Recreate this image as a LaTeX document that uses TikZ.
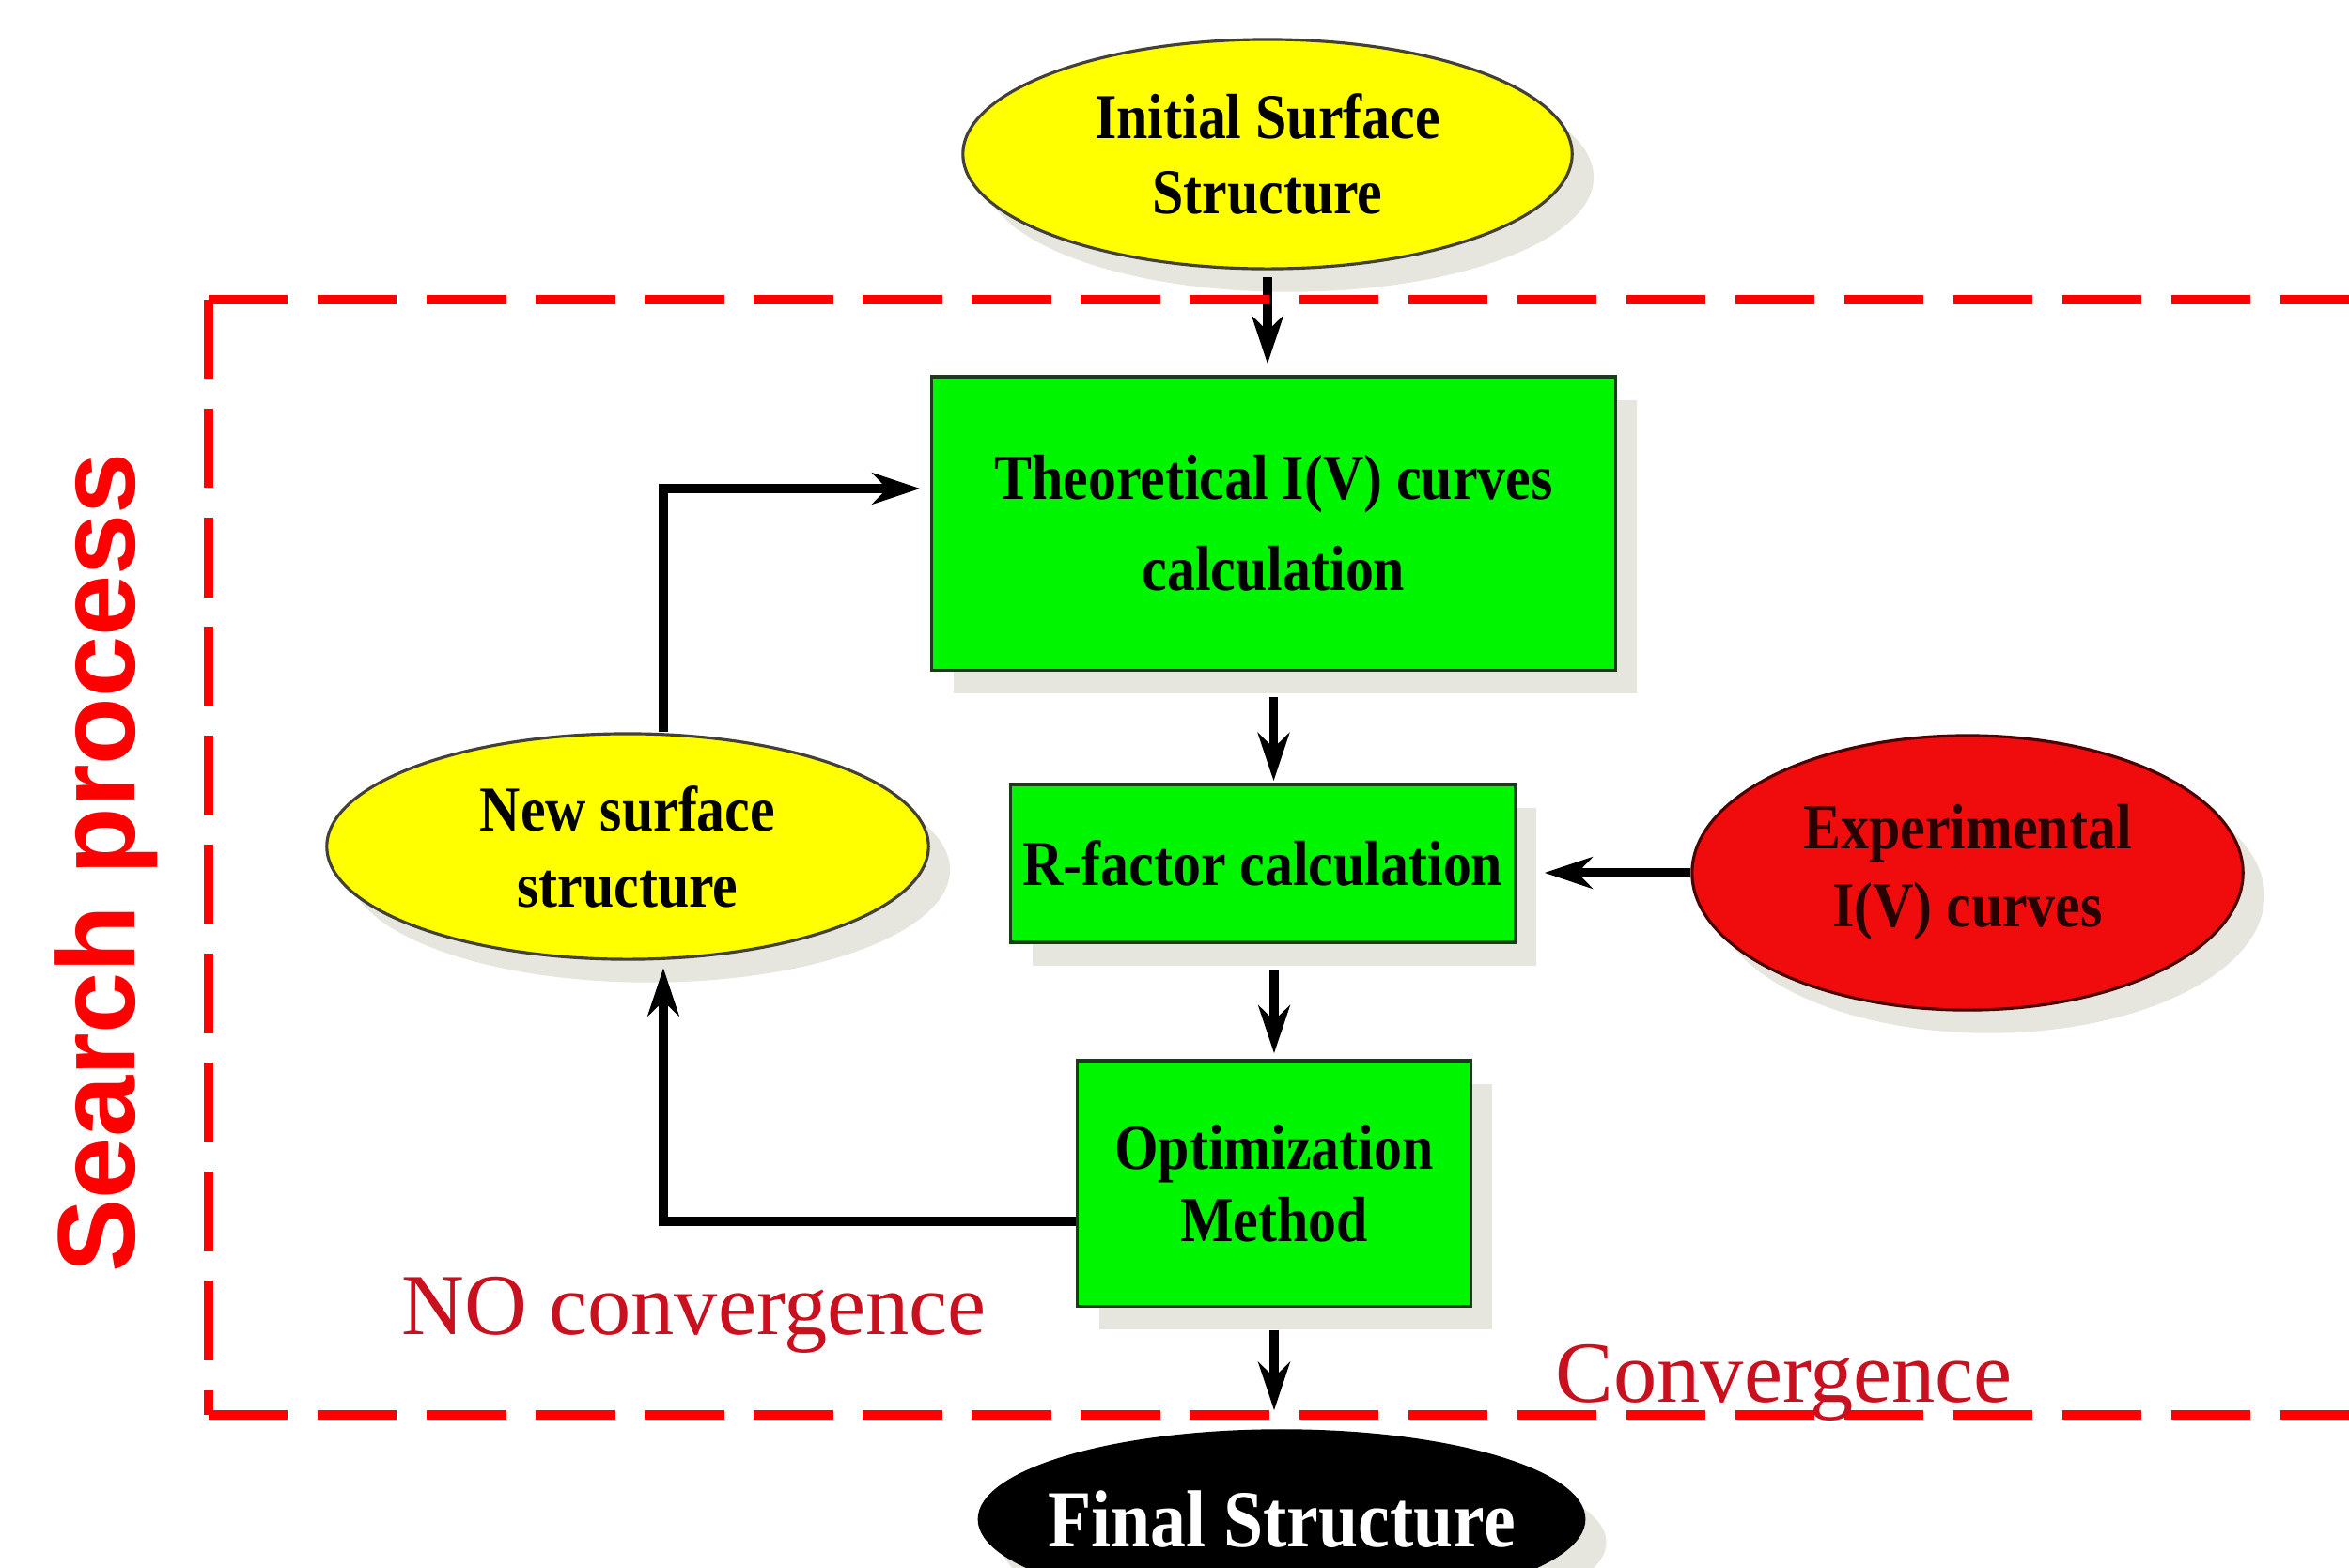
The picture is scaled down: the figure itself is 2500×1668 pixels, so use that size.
\documentclass[tikz,border=0pt]{standalone}
\usepackage{fontspec}
\setmainfont{Liberation Serif}
\newfontfamily\condfont[FakeStretch=0.88]{Liberation Serif}
\newfontfamily\sansbold{Liberation Sans}
\usetikzlibrary{shapes.geometric,arrows.meta,shadows}
\definecolor{boxgreen}{RGB}{0,245,0}
\definecolor{boxedge}{RGB}{25,60,25}
\definecolor{ellyellow}{RGB}{255,255,0}
\definecolor{ellred}{RGB}{240,12,12}
\definecolor{labelred}{RGB}{200,16,30}
\definecolor{dashred}{RGB}{255,0,0}
\definecolor{shadowgray}{RGB}{230,230,222}
\definecolor{exptext}{RGB}{40,0,0}
\tikzset{
  nodetext/.style={font=\condfont\bfseries\fontsize{19.35pt}{23pt}\selectfont, align=center, inner sep=0pt},
  shadowed/.style={drop shadow={shadow xshift=6.5pt, shadow yshift=-7pt, fill=shadowgray, opacity=1}},
  greenbox/.style={nodetext, rectangle, draw=boxedge, line width=0.9pt, fill=boxgreen, shadowed},
  yellowell/.style={nodetext, ellipse, draw=black!85!yellow, line width=0.9pt, fill=ellyellow, shadowed},
  conn/.style={line width=2.6pt, -{Stealth[length=14.5pt,width=9.5pt,inset=4.5pt]}},
  dashframe/.style={draw=dashred, line width=3pt, dash pattern=on 24pt off 9pt},
  convlabel/.style={font=\fontsize{26.3pt}{30pt}\selectfont, text=labelred, anchor=base west, inner sep=0pt},
}
\begin{document}
\begin{tikzpicture}[x=0.01cm,y=-0.01cm]
\clip (0,0) rectangle (2500,1668);
\fill[white] (0,0) rectangle (2500,1668);

% nodes
\node[yellowell, minimum width=6.48cm, minimum height=2.44cm] (init) at (1349,164)
  {Initial Surface\\[-0.5pt]Structure};
\node[greenbox, minimum width=7.27cm, minimum height=3.12cm] (theo) at (1355.5,557)
  {Theoretical I(V) curves\\[4.6pt]calculation};
\node[greenbox, minimum width=5.36cm, minimum height=1.68cm] (rfac) at (1344,919)
  {R-factor calculation};
\node[greenbox, minimum width=4.18cm, minimum height=2.61cm] (opt) at (1356,1259.5)
  {Optimization\\[-1.1pt]Method};
\node[yellowell, minimum width=6.40cm, minimum height=2.40cm] (newsurf) at (668,901)
  {New surface\\structure};
\node[nodetext, ellipse, draw=black!70!red, line width=0.9pt, fill=ellred, text=exptext, shadowed,
      minimum width=5.86cm, minimum height=2.92cm] (exp) at (2094,929)
  {Experimental\\[0.6pt]I(V) curves};
\node[ellipse, fill=black, draw=black, text=white, shadowed, inner xsep=-30pt, inner ysep=-10pt,
      font=\condfont\bfseries\fontsize{24.5pt}{28pt}\selectfont,
      minimum width=6.45cm, minimum height=1.90cm] (final) at (1364,1617)
  {Final Structure};

% helper coordinates for the loop
\coordinate (lc1) at (706,1300);
\coordinate (lc2) at (706,520);

% connectors
\draw[conn, shorten <=2pt, shorten >=3.4pt] (init.south) -- (init.south |- theo.north);
\draw[conn, shorten <=7.7pt, shorten >=0.6pt] (theo.south) -- (theo.south |- rfac.north);
\draw[conn, shorten <=7.8pt, shorten >=1.7pt] (opt.north |- rfac.south) -- (opt.north);
\draw[conn, shorten <=6.8pt, shorten >=5.7pt] (opt.south) -- (opt.south |- final.north);
\draw[conn, shorten >=8.5pt] (exp.west) -- (rfac.east |- exp.west);
\draw[conn, shorten >=2.2pt] (opt.west |- lc1) -- (lc1) -- (lc1 |- newsurf.south);
\draw[conn, shorten >=3.1pt] (lc2 |- newsurf.north) -- (lc2) -- (lc2 -| theo.west);

% dashed frame
\coordinate (ftl) at (222,319);
\coordinate (fbl) at (222,1506);
\coordinate (ftr) at (2560,319);
\coordinate (fbr) at (2560,1506);
\draw[dashframe] (ftl) -- (ftr);
\draw[dashframe] (ftl) -- (fbl);
\draw[dashframe] (fbl) -- (fbr);

% labels
\node[convlabel] (noconv) at (427,1420) {NO convergence};
\node[convlabel] (conv) at (1655,1492) {Convergence};
\node[rotate=90, anchor=base, inner sep=0pt, text=dashred,
      font=\sansbold\bfseries\fontsize{33.3pt}{36pt}\selectfont] (search) at (143,918) {Search process};
\end{tikzpicture}
\end{document}
